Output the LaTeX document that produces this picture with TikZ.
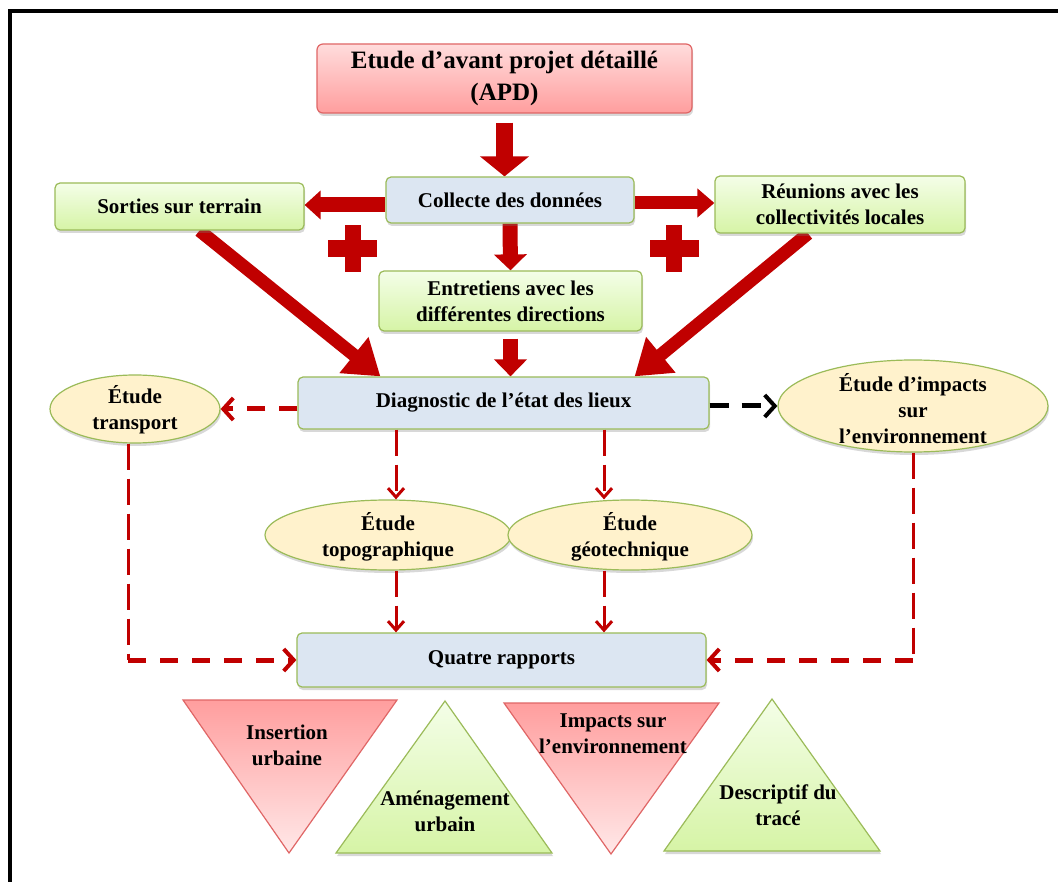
\documentclass[tikz,border=0pt]{standalone}
\usepackage{fontspec}
\setmainfont{Liberation Serif}
\usetikzlibrary{arrows.meta,shapes.geometric,shadows,calc}
\definecolor{arrred}{HTML}{C00000}
\definecolor{bordgreen}{HTML}{9BBB59}
\definecolor{boxblue}{HTML}{DCE6F2}
\definecolor{greentop}{HTML}{F4FEE8}
\definecolor{greenbot}{HTML}{D6F4A6}
\definecolor{pinktop}{HTML}{FFDCDC}
\definecolor{pinkbot}{HTML}{FF9E9E}
\definecolor{pinklight}{HTML}{FFE8E8}
\definecolor{pinkbord}{HTML}{E06666}
\definecolor{ellfill}{HTML}{FFF2CC}
\pgfdeclarelayer{back}
\pgfdeclarelayer{bg}
\pgfsetlayers{back,bg,main}
\begin{document}
\begin{tikzpicture}[x=1pt,y=-1pt,
  txt/.style={font=\fontsize{21}{26}\selectfont\bfseries, align=center, inner sep=0pt},
  shad/.style={drop shadow={shadow xshift=1pt,shadow yshift=-3pt,opacity=0.3}},
  bluebox/.style={txt, shad, rectangle, rounded corners=5pt, draw=bordgreen, line width=1.2pt, fill=boxblue},
  greenbox/.style={txt, shad, rectangle, rounded corners=5pt, draw=bordgreen, line width=1.2pt, top color=greentop, bottom color=greenbot},
  pinkbox/.style={shad, rectangle, rounded corners=6pt, draw=pinkbord, line width=1.2pt, top color=pinktop, bottom color=pinkbot, align=center, inner sep=0pt, font=\fontsize{25}{32}\selectfont\bfseries},
  oval/.style={shad, ellipse, draw=bordgreen, line width=1.2pt, fill=ellfill, inner sep=0pt},
  bigarr/.style n args={3}{draw=arrred, line width=#1, -{Triangle[length=#3,width=#2]}},
  reddashv/.style={draw=arrred, line width=3pt, dash pattern=on 26pt off 9pt, -{Straight Barb[length=9pt,width=16pt]}},
  reddashvplain/.style={draw=arrred, line width=3pt, dash pattern=on 26pt off 9pt},
  reddashh/.style={draw=arrred, line width=5pt, dash pattern=on 18pt off 14pt, -{Straight Barb[length=10pt,width=22pt,line width=4pt]}},
  blackdash/.style={draw=black, line width=5pt, dash pattern=on 19pt off 13pt, -{Straight Barb[length=10pt,width=22pt,line width=4pt]}},
  pinktri/.style={draw=pinkbord, line width=1.2pt, top color=pinkbot, bottom color=pinklight},
  greentri/.style={shad, draw=bordgreen, line width=1.2pt, top color=greentop, bottom color=greenbot}
]
\useasboundingbox (0,0) rectangle (1058,882);
\begin{pgfonlayer}{back}
\fill[white] (0,0) rectangle (1058,882);
\end{pgfonlayer}
% frame
\draw[line width=4pt] (9.5,900) -- (9.5,11) -- (1080,11);

% boxes
\node[pinkbox, minimum width=375pt, minimum height=69pt] (apd) at (504.5,78.5) {Etude d’avant projet détaillé\\(APD)};
\node[bluebox, minimum width=248pt, minimum height=46pt] (collecte) at (510,200) {Collecte des données};
\node[greenbox, minimum width=249pt, minimum height=47pt] (sorties) at (179.5,206.5) {Sorties sur terrain};
\node[greenbox, minimum width=250pt, minimum height=57pt] (reunions) at (840,204.5) {Réunions avec les\\collectivités locales};
\node[greenbox, minimum width=263pt, minimum height=60pt] (entretiens) at (510.5,301) {Entretiens avec les\\différentes directions};
\node[bluebox, minimum width=411pt, minimum height=52pt] (diag) at (503.5,403) {Diagnostic de l’état des lieux};
\node[bluebox, minimum width=409pt, minimum height=54pt] (quatre) at (501.5,660) {Quatre rapports};

% ellipses
\node[oval, minimum width=170pt, minimum height=68pt] (transport) at (135,409) {};
\node[txt] (transportT) at (135,410) {Étude\\transport};
\node[oval, minimum width=270pt, minimum height=92pt] (impacts) at (913,406) {};
\node[txt] (impactsT) at (913,409) {Étude d’impacts\\sur\\l’environnement};
\node[oval, minimum width=246pt, minimum height=70pt] (topo) at (388,535) {};
\node[txt] (topoT) at (388,537) {Étude\\topographique};
\node[oval, minimum width=244pt, minimum height=70pt] (geo) at (630,535) {};
\node[txt] (geoT) at (630,537) {Étude\\géotechnique};

% big red arrows
\begin{pgfonlayer}{bg}
\draw[bigarr={17pt}{48pt}{20pt}] ([yshift=-9pt]apd.south) -- (apd.south |- collecte.north);
\draw[bigarr={15pt}{28pt}{16pt}] ([yshift=-5pt]collecte.west) -- ([yshift=-5pt]collecte.west -| sorties.east);
\draw[bigarr={13pt}{28pt}{17pt}] ([yshift=-3pt]collecte.east) -- ([yshift=-3pt]collecte.east -| reunions.west);
\draw[bigarr={15pt}{32pt}{16pt}] (collecte.south) -- (entretiens.north);
\draw[bigarr={15pt}{32pt}{17pt}] ([yshift=-7pt]entretiens.south) -- (entretiens.south |- diag.north);
\draw[bigarr={13pt}{44pt}{34pt}] ($(sorties.south)+(20,0)$) -- ($(diag.north west)+(83,0)$);
\draw[bigarr={13pt}{44pt}{34pt}] ($(reunions.south)+(-32,0)$) -- ($(diag.north east)+(-75,0)$);
\end{pgfonlayer}

% plus signs
\fill[arrred] (328,240) rectangle (377,257);
\fill[arrred] (345,225) rectangle (361,272);
\fill[arrred] (650,240) rectangle (699,257);
\fill[arrred] (666,225) rectangle (682,272);

% dashed connectors
\coordinate (c1) at (396,0);
\coordinate (c2) at (604,0);
\coordinate (c3) at (128,660);
\coordinate (c4) at (913,660);
\draw[reddashh] (diag.west |- transport.east) -- (transport.east);
\draw[blackdash] (diag.east |- impacts.west) -- (impacts.west);
\draw[reddashv] (diag.south -| c1) -- (topo.north -| c1);
\draw[reddashv] (diag.south -| c2) -- (geo.north -| c2);
\draw[reddashv] (topo.south -| c1) -- (quatre.north -| c1);
\draw[reddashv] (geo.south -| c2) -- (quatre.north -| c2);
\draw[reddashvplain] (transport.south -| c3) -- (c3);
\draw[reddashh] (c3) -- (quatre.west |- c3);
\draw[reddashvplain] (impacts.south) -- (c4);
\draw[reddashh] (c4) -- (quatre.east |- c4);

% triangles
\path[pinktri] (183,700) -- (397,700) -- (289,853) -- cycle;
\path[greentri] (445,701) -- (552,853) -- (336,853) -- cycle;
\path[pinktri] (504,703) -- (719,703) -- (611,854) -- cycle;
\path[greentri] (772,699) -- (880,851) -- (664,851) -- cycle;
\node[txt] (insertion) at (287,745) {Insertion\\urbaine};
\node[txt] (amenag) at (445,811) {Aménagement\\urbain};
\node[txt] (impactsenv) at (613,734) {Impacts sur\\l’environnement};
\node[txt] (descriptif) at (778,805) {Descriptif du\\tracé};
\end{tikzpicture}
\end{document}
